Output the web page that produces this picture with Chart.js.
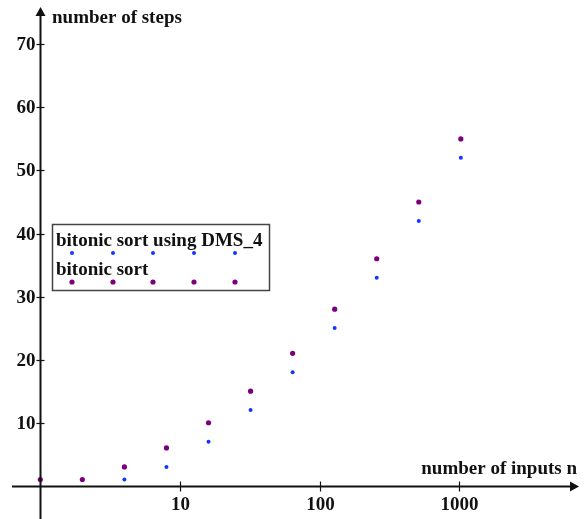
<!DOCTYPE html>
<html>
<head>
<meta charset="utf-8">
<script src="https://cdn.jsdelivr.net/npm/chart.js@4"></script>
<style>
    body { margin: 0; background: #fff; }
    #wrap { width: 586px; height: 519px; }
</style>
</head>
<body>
<div id="wrap"><canvas id="chart" width="586" height="519"></canvas></div>
<script>
// number of inputs n (powers of two)
const inputs = [1, 2, 4, 8, 16, 32, 64, 128, 256, 512, 1024];
// steps
const bitonicSteps = [1, 1, 3, 6, 10, 15, 21, 28, 36, 45, 55];
const dmsInputs = [4, 8, 16, 32, 64, 128, 256, 512, 1024];
const dmsSteps = [1, 3, 7, 12, 18, 25, 33, 42, 52];

// tick labels
const xTicks = [10, 100, 1000];
const yTicks = [10, 20, 30, 40, 50, 60, 70];

const seriesNames = ['bitonic sort using DMS_4', 'bitonic sort'];
const seriesColors = ['#1236ff', '#7c007c'];

const FONT = 'bold 19px "Liberation Serif", "DejaVu Serif", serif';

/**
 * Draws the axes through the origin, the arrows, tick marks,
 * tick labels, axis titles and the boxed legend.
 */
const axesPlugin = {
    id: 'axesPlugin',
    afterDatasetsDraw(chart) {
        const ctx = chart.ctx;
        const xs = chart.scales.x;
        const ys = chart.scales.y;
        const x0 = Math.round(xs.getPixelForValue(1)) + 0.5;
        const y0 = Math.round(ys.getPixelForValue(0)) + 0.5;

        ctx.save();
        ctx.strokeStyle = '#111';
        ctx.fillStyle = '#111';
        ctx.lineWidth = 2;

        // y axis
        ctx.beginPath();
        ctx.moveTo(x0, 519);
        ctx.lineTo(x0, 12);
        ctx.stroke();
        ctx.beginPath();
        ctx.moveTo(x0, 7);
        ctx.lineTo(x0 - 5, 16);
        ctx.lineTo(x0 + 5, 16);
        ctx.closePath();
        ctx.fill();

        // x axis
        ctx.beginPath();
        ctx.moveTo(12, y0);
        ctx.lineTo(573, y0);
        ctx.stroke();
        ctx.beginPath();
        ctx.moveTo(579, y0);
        ctx.lineTo(570, y0 - 5);
        ctx.lineTo(570, y0 + 5);
        ctx.closePath();
        ctx.fill();

        ctx.font = FONT;
        ctx.lineWidth = 1.2;

        // y ticks
        ctx.textAlign = 'right';
        ctx.textBaseline = 'middle';
        yTicks.forEach(v => {
            const py = Math.round(ys.getPixelForValue(v)) + 0.5;
            ctx.beginPath();
            ctx.moveTo(x0 - 4, py);
            ctx.lineTo(x0 + 4, py);
            ctx.stroke();
            ctx.fillText(String(v), x0 - 5, py + 1);
        });

        // x ticks
        ctx.textAlign = 'center';
        ctx.textBaseline = 'top';
        xTicks.forEach(v => {
            const px = Math.round(xs.getPixelForValue(v)) + 0.5;
            ctx.beginPath();
            ctx.moveTo(px, y0 - 5);
            ctx.lineTo(px, y0 + 5);
            ctx.stroke();
            ctx.fillText(String(v), px, y0 + 9);
        });

        // axis titles
        ctx.textBaseline = 'middle';
        ctx.textAlign = 'left';
        ctx.fillText('number of steps', 52, 18);
        ctx.textAlign = 'right';
        ctx.fillText('number of inputs n', 577, 469);

        // legend box
        ctx.fillStyle = '#fff';
        ctx.fillRect(52.5, 224.5, 217, 66);
        ctx.strokeStyle = '#444';
        ctx.lineWidth = 1.5;
        ctx.strokeRect(52.5, 224.5, 217, 66);

        ctx.fillStyle = '#111';
        ctx.textAlign = 'left';
        ctx.fillText(seriesNames[0], 56, 241);
        ctx.fillText(seriesNames[1], 56, 270);

        const dotX = [72, 113, 153, 194, 235];
        [[253, 0, 2], [282, 1, 2.6]].forEach(([dy, s, r]) => {
            ctx.fillStyle = seriesColors[s];
            dotX.forEach(dx => {
                ctx.beginPath();
                ctx.arc(dx, dy, r, 0, Math.PI * 2);
                ctx.fill();
            });
        });

        ctx.restore();
    }
};

const ctx = document.getElementById('chart').getContext('2d');

// Chart.js keeps a 4px inset for the point hover radius, so the
// limits below are chosen for a 578 x 511 chart area
new Chart(ctx, {
    type: 'scatter',
    data: {
        datasets: [{
            label: seriesNames[0],
            data: dmsInputs.map((n, i) => ({ x: n, y: dmsSteps[i] })),
            backgroundColor: seriesColors[0],
            borderWidth: 0,
            pointRadius: 2,
            pointHoverRadius: 4
        }, {
            label: seriesNames[1],
            data: inputs.map((n, i) => ({ x: n, y: bitonicSteps[i] })),
            backgroundColor: seriesColors[1],
            borderWidth: 0,
            pointRadius: 2.6,
            pointHoverRadius: 4
        }]
    },
    options: {
        responsive: false,
        animation: false,
        layout: { padding: 0 },
        plugins: {
            legend: { display: false },
            tooltip: { enabled: false }
        },
        scales: {
            x: {
                type: 'logarithmic',
                display: false,
                min: 0.5497,
                max: 7545
            },
            y: {
                type: 'linear',
                display: false,
                min: -4.63,
                max: 76.39
            }
        }
    },
    plugins: [axesPlugin]
});
</script>
</body>
</html>
